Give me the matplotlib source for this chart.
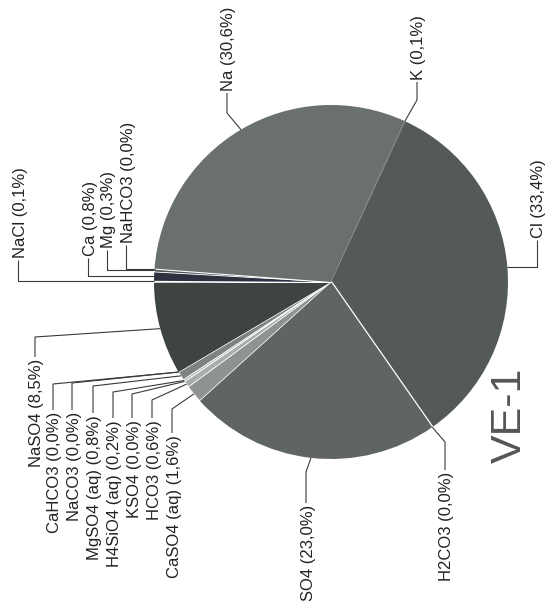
import matplotlib
matplotlib.use('Agg')
import matplotlib.pyplot as plt
import numpy as np

# ---- data ----
species = ['K', 'Cl', 'H2CO3', 'SO4', 'CaSO4 (aq)', 'HCO3', 'KSO4', 'H4SiO4 (aq)',
           'MgSO4 (aq)', 'NaCO3', 'CaHCO3', 'NaSO4', 'NaCl', 'Ca', 'Mg', 'NaHCO3', 'Na']
percent = [0.1, 33.4, 0.0, 23.0, 1.6, 0.6, 0.0, 0.2,
           0.8, 0.0, 0.0, 8.5, 0.1, 0.8, 0.3, 0.0, 30.6]
sample_name = 'VE-1'

# ---- styles ----
colors = ['#5a605d', '#535a57', '#ffffff', '#5f6563', '#8e9390', '#a9adab', '#ffffff', '#b3b7b4',
          '#7e8380', '#ffffff', '#ffffff', '#3d4442', '#ffffff', '#2e3140', '#50555c', '#ffffff', '#6a706d']
edge_w = [0, 0, 1.8, 0, 0.5, 0.5, 0.8, 0.5,
          0.5, 0.8, 0.8, 0, 1.2, 0, 0.6, 1.6, 0]

W, H = 558, 607
CX, CY, R = 331, 282, 177   # image pixel coords of the pie centre


def Y(y):
    return H - y


# label layout in image pixels: leader x, text anchor y, elbow y, side
# side 'up' : text extends upward from anchor; 'down': text extends downward
layout = {
    'Na':          (227, 93, 113, 'up'),
    'K':           (417, 82, 100, 'up'),
    'Cl':          (537, 240, None, 'up'),
    'H2CO3':       (445, 470, 442, 'down'),
    'SO4':         (306, 503, 472, 'down'),
    'CaSO4 (aq)':  (172, 433, 409, 'down'),
    'HCO3':        (152, 418, 400, 'down'),
    'KSO4':        (132, 418, 394, 'down'),
    'H4SiO4 (aq)': (113, 418, 392, 'down'),
    'MgSO4 (aq)':  (93, 413, 386, 'down'),
    'NaCO3':       (72, 410, 383, 'down'),
    'CaHCO3':      (53, 410, 384, 'down'),
    'NaSO4':       (35, 357, 337, 'down'),
    'NaCl':        (18, 260, None, 'up'),
    'Ca':          (88, 258, None, 'up'),
    'Mg':          (107, 250, None, 'up'),
    'NaHCO3':      (126, 245, None, 'up'),
}

plt.rcParams['font.family'] = ['Liberation Sans', 'DejaVu Sans']

fig = plt.figure(figsize=(W / 100, H / 100), dpi=100)
ax = fig.add_axes([0, 0, 1, 1])

wedges, _ = ax.pie(percent, startangle=65.5, counterclock=False,
                   center=(CX, Y(CY)), radius=R, colors=colors,
                   wedgeprops=dict(linewidth=0))
for w, lw in zip(wedges, edge_w):
    if lw > 0:
        w.set_edgecolor('white')
        w.set_linewidth(lw)

for w, name, pct in zip(wedges, species, percent):
    lx, ay, ey, side = layout[name]
    mid = np.deg2rad((w.theta1 + w.theta2) / 2)
    px = CX + R * np.cos(mid)
    py = CY - R * np.sin(mid)
    if ey is None:
        # horizontal run to the pie, then vertical to the text
        ey = py
        pts = [(min(px, 195) if px < CX else px, py), (lx, ey), (lx, ay)]
    else:
        pts = [(px, py), (lx, ey), (lx, ay)]
    xs = [p[0] for p in pts]
    ys = [Y(p[1]) for p in pts]
    ax.plot(xs, ys, color='#3a3a3a', lw=0.8, solid_capstyle='butt')
    label = f"{name} ({pct:.1f}%)".replace('.', ',')
    if side == 'up':
        ax.text(lx + 2, Y(ay) + 2, label, rotation=90, rotation_mode='anchor',
                ha='left', va='center', fontsize=12, color='#222222')
    else:
        ax.text(lx + 2, Y(ay) - 2, label, rotation=90, rotation_mode='anchor',
                ha='right', va='center', fontsize=12, color='#222222')

ax.text(510, Y(463), sample_name, rotation=90, rotation_mode='anchor',
        ha='left', va='center', fontsize=31, color='#555555')

ax.set_xlim(0, W)
ax.set_ylim(0, H)
ax.set_aspect('auto')
ax.axis('off')

fig.savefig('out.png', dpi=100)
